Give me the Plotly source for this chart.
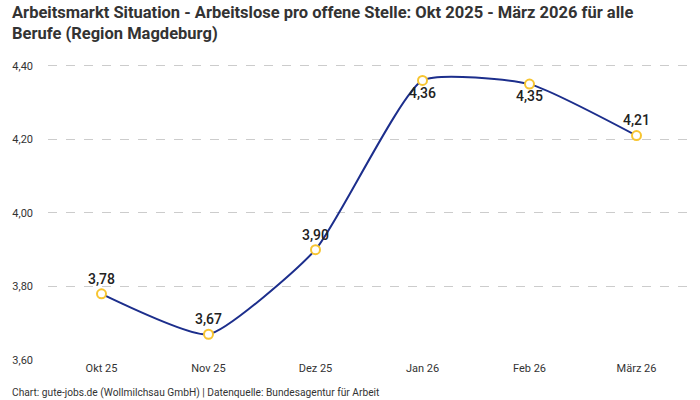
import plotly.graph_objects as go

monate = ["Okt 25", "Nov 25", "Dez 25", "Jan 26", "Feb 26", "März 26"]
werte = [3.78, 3.67, 3.90, 4.36, 4.35, 4.21]
label_pos = ["top center", "top center", "top center", "bottom center", "bottom center", "top center"]

titel = ("Arbeitsmarkt Situation - Arbeitslose pro offene Stelle: Okt 2025 - März 2026 für alle<br>"
         "Berufe (Region Magdeburg)")
quelle = "Chart: gute-jobs.de (Wollmilchsau GmbH) | Datenquelle: Bundesagentur für Arbeit"

# Plotbereich in Pixeln, damit Titel/Quelle passend liegen
L, R, T, B = 48, 10, 51, 40
pw, ph = 700 - L - R, 400 - T - B

fig = go.Figure()
fig.add_trace(go.Scatter(
    x=monate, y=werte, mode="lines+markers+text",
    line=dict(color="#1c2e8c", width=2, shape="spline", smoothing=0.5),
    marker=dict(size=9, color="white", line=dict(color="#f7c531", width=2)),
    text=[f"{v:.2f}".replace(".", ",") for v in werte],
    textposition=label_pos,
    textfont=dict(size=14, color="#222", family="Roboto", weight=500),
    cliponaxis=False, hoverinfo="skip"))

fig.update_layout(
    width=700, height=400,
    margin=dict(l=L, r=R, t=T, b=B, autoexpand=False),
    paper_bgcolor="white", plot_bgcolor="white",
    font=dict(family="Roboto", color="#333", size=11),
    separators=",.",
    showlegend=False,
    annotations=[
        dict(text="<b>" + titel + "</b>", x=(10 - L) / pw, y=1 + (T - 1) / ph,
             xref="paper", yref="paper", xanchor="left", yanchor="top", align="left",
             showarrow=False, font=dict(size=16.5, color="#333")),
        dict(text=quelle, x=(10 - L) / pw, y=-(393 - (T + ph)) / ph,
             xref="paper", yref="paper", xanchor="left", yanchor="middle",
             showarrow=False, font=dict(size=10.2, color="#333")),
    ],
)
fig.update_xaxes(showgrid=False, showline=False, ticks="", range=[-0.5, 5.5],
                 automargin=False, tickfont=dict(size=11, color="#333"))
fig.update_yaxes(range=[3.6, 4.44], dtick=0.2, tick0=3.6, tickformat=".2f",
                 showgrid=True, gridcolor="#cccccc", griddash="dash", zeroline=False,
                 automargin=False, ticklabelstandoff=14,
                 tickfont=dict(size=11, color="#333"))
# Seitenrand des Browsers entfernen, sonst verschiebt sich alles um 8px
fig.write_html("out.html", config={"displayModeBar": False},
               post_script="document.body.style.margin='0';")
